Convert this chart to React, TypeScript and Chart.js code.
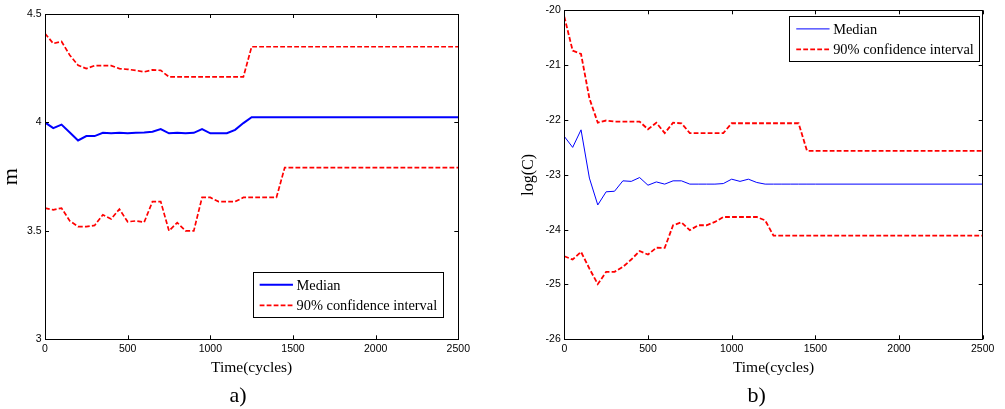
import { useEffect, useRef } from 'react';
import { Chart, registerables } from 'chart.js';

Chart.register(...registerables);

// ---------------- data ----------------
const cycles = [0, 50, 100, 150, 200, 250, 300, 350, 400, 450, 500, 550, 600, 650, 700, 750, 800, 850, 900, 950, 1000, 1050, 1100, 1150, 1200, 1250, 1300, 1350, 1400, 1450, 1500, 2500];

const mMedian = [4.0, 3.974, 3.99, 3.954, 3.917, 3.937, 3.937, 3.952, 3.95, 3.952, 3.95, 3.952, 3.954, 3.957, 3.969, 3.95, 3.952, 3.95, 3.952, 3.969, 3.95, 3.95, 3.95, 3.966, 3.997, 4.024, 4.024, 4.024, 4.024, 4.024, 4.024, 4.024];
const mUpper = [4.41, 4.364, 4.373, 4.31, 4.264, 4.248, 4.262, 4.262, 4.262, 4.248, 4.245, 4.24, 4.233, 4.242, 4.24, 4.21, 4.21, 4.21, 4.21, 4.21, 4.21, 4.21, 4.21, 4.21, 4.21, 4.349, 4.349, 4.349, 4.349, 4.349, 4.349, 4.349];
const mLower = [3.605, 3.597, 3.605, 3.546, 3.52, 3.52, 3.525, 3.574, 3.555, 3.6, 3.542, 3.546, 3.54, 3.635, 3.635, 3.5, 3.538, 3.5, 3.5, 3.654, 3.654, 3.635, 3.635, 3.635, 3.654, 3.654, 3.654, 3.654, 3.654, 3.792, 3.792, 3.792];

const cMedian = [-22.3, -22.5, -22.18, -23.06, -23.55, -23.31, -23.3, -23.11, -23.12, -23.05, -23.19, -23.13, -23.17, -23.11, -23.11, -23.17, -23.17, -23.17, -23.17, -23.16, -23.08, -23.12, -23.08, -23.14, -23.17, -23.17, -23.17, -23.17, -23.17, -23.17, -23.17, -23.17];
const cUpper = [-20.116, -20.736, -20.797, -21.606, -22.05, -22.01, -22.03, -22.03, -22.03, -22.03, -22.17, -22.05, -22.24, -22.05, -22.06, -22.24, -22.24, -22.24, -22.24, -22.24, -22.06, -22.06, -22.06, -22.06, -22.06, -22.06, -22.06, -22.06, -22.06, -22.562, -22.562, -22.562];
const cLower = [-24.485, -24.545, -24.406, -24.71, -24.994, -24.77, -24.77, -24.68, -24.545, -24.39, -24.455, -24.33, -24.333, -23.92, -23.867, -24.01, -23.92, -23.92, -23.86, -23.77, -23.77, -23.77, -23.77, -23.77, -23.83, -24.11, -24.11, -24.11, -24.11, -24.11, -24.11, -24.11];

const medianLabel = 'Median';
const ciLabel = '90% confidence interval';
const xTitle = 'Time(cycles)';

const SERIF = "'Liberation Serif', 'Times New Roman', serif";
const SANS = "'Liberation Sans', Arial, sans-serif";

const toPoints = (vals: number[]) => cycles.map((c, i) => ({ x: c, y: vals[i] }));
const plainTick = (v: any) => String(v);

// ---------------- decoration plugin ----------------
const decor = {
  id: 'decor',
  afterDraw(chart: any, _args: any, opts: any) {
    const { ctx, chartArea: a, scales } = chart;
    ctx.save();
    ctx.strokeStyle = '#000';
    ctx.lineWidth = 1;
    const tl = 4;
    const line = (x1: number, y1: number, x2: number, y2: number) => {
      ctx.beginPath();
      ctx.moveTo(x1, y1);
      ctx.lineTo(x2, y2);
      ctx.stroke();
    };
    // inward ticks on all four sides
    scales.x.ticks.forEach((t: any) => {
      const px = Math.round(scales.x.getPixelForValue(t.value)) + 0.5;
      line(px, a.bottom, px, a.bottom - tl);
      line(px, a.top, px, a.top + tl);
    });
    scales.y.ticks.forEach((t: any) => {
      const py = Math.round(scales.y.getPixelForValue(t.value)) + 0.5;
      line(a.left, py, a.left + tl, py);
      line(a.right, py, a.right - tl, py);
    });
    // frame
    ctx.strokeRect(Math.round(a.left) + 0.5, Math.round(a.top) + 0.5, Math.round(a.right - a.left), Math.round(a.bottom - a.top));

    // legend
    const lg = opts.legend;
    ctx.font = `${lg.fontSize}px ${SERIF}`;
    const entries = lg.entries.map((i: number) => chart.data.datasets[i]);
    const tw = Math.max(...entries.map((d: any) => ctx.measureText(d.label).width));
    const sample = 33.3;
    const w = 7 + sample + 3.6 + tw + 5.5;
    const h = 44.8;
    const bx = a.right - lg.right - w;
    const by = lg.top !== undefined ? a.top + lg.top : a.bottom - lg.bottom - h;
    ctx.fillStyle = '#fff';
    ctx.fillRect(bx, by, w, h);
    ctx.strokeStyle = '#000';
    ctx.lineWidth = 1;
    ctx.strokeRect(Math.round(bx) + 0.5, Math.round(by) + 0.5, Math.round(w), Math.round(h));
    entries.forEach((d: any, k: number) => {
      const ry = by + 13.9 + k * 20.5;
      ctx.save();
      ctx.strokeStyle = d.borderColor;
      ctx.lineWidth = d.borderWidth;
      ctx.setLineDash(d.borderDash || []);
      line(bx + 7, ry - 1, bx + 7 + sample, ry - 1);
      ctx.restore();
      ctx.fillStyle = '#000';
      ctx.textAlign = 'left';
      ctx.textBaseline = 'middle';
      ctx.fillText(d.label, bx + 7 + sample + 3.6, ry);
    });

    // sub-figure label
    ctx.font = `22px ${SERIF}`;
    ctx.fillStyle = '#000';
    ctx.textAlign = 'center';
    ctx.textBaseline = 'middle';
    ctx.fillText(opts.caption.text, opts.caption.x, opts.caption.y);
    ctx.restore();
  },
};

type PanelProps = {
  width: number;
  left: number;
  median: number[];
  upper: number[];
  lower: number[];
  medianWidth: number;
  ciWidth: number;
  yMin: number;
  yMax: number;
  yStep: number;
  yTitle: string;
  yTitleFont: number;
  yTitleLH: number;
  yTitlePad: number;
  yAxisW: number;
  padding: { left: number; top: number; right: number; bottom: number };
  legend: any;
  caption: { text: string; x: number; y: number };
};

function Panel(p: PanelProps) {
  const ref = useRef<HTMLCanvasElement | null>(null);
  useEffect(() => {
    if (!ref.current) return;
    const dash = [4.8, 2.2];
    const chart = new Chart(ref.current, {
      type: 'line',
      data: {
        datasets: [
          { label: medianLabel, data: toPoints(p.median), borderColor: '#0000ff', borderWidth: p.medianWidth, pointRadius: 0, tension: 0, fill: false },
          { label: ciLabel, data: toPoints(p.upper), borderColor: '#ff0000', borderWidth: p.ciWidth, borderDash: dash, pointRadius: 0, tension: 0, fill: false },
          { label: ciLabel, data: toPoints(p.lower), borderColor: '#ff0000', borderWidth: p.ciWidth, borderDash: dash, pointRadius: 0, tension: 0, fill: false },
        ],
      },
      options: {
        animation: false,
        responsive: false,
        devicePixelRatio: 1,
        layout: { padding: p.padding },
        plugins: {
          legend: { display: false },
          tooltip: { enabled: false },
          decor: { legend: p.legend, caption: p.caption },
        } as any,
        scales: {
          x: {
            type: 'linear',
            min: 0,
            max: 2500,
            afterFit: (s: any) => { s.height = 42.2; },
            ticks: { stepSize: 500, padding: 4, color: '#000', maxRotation: 0, font: { family: SANS, size: 10.5 }, callback: plainTick },
            grid: { display: false, drawTicks: false },
            border: { display: false },
            title: { display: true, text: xTitle, color: '#000', font: { family: SERIF, size: 15.5, lineHeight: 1.2 }, padding: { top: 0, bottom: 4 } },
          },
          y: {
            type: 'linear',
            min: p.yMin,
            max: p.yMax,
            afterFit: (s: any) => { s.width = p.yAxisW; },
            ticks: { stepSize: p.yStep, padding: 3.5, color: '#000', font: { family: SANS, size: 10.5 }, callback: plainTick },
            grid: { display: false, drawTicks: false },
            border: { display: false },
            title: { display: true, text: p.yTitle, color: '#000', font: { family: SERIF, size: p.yTitleFont, lineHeight: p.yTitleLH }, padding: { top: p.yTitlePad, bottom: 0 } },
          },
        },
      } as any,
      plugins: [decor as any],
    });
    return () => chart.destroy();
  }, []);
  return (
    <canvas
      ref={ref}
      width={p.width}
      height={409}
      style={{ position: 'absolute', left: p.left, top: 0, width: p.width, height: 409 }}
    />
  );
}

export default function App() {
  return (
    <div style={{ position: 'fixed', left: 0, top: 0, width: 1005, height: 409, background: '#fff', overflow: 'hidden' }}>
      <Panel
        width={500}
        left={0}
        median={mMedian}
        upper={mUpper}
        lower={mLower}
        medianWidth={2}
        ciWidth={1.7}
        yMin={3}
        yMax={4.5}
        yStep={0.5}
        yTitle="m"
        yTitleFont={22}
        yTitleLH={1}
        yTitlePad={0}
        yAxisW={45}
        padding={{ left: 0, top: 14, right: 41.7, bottom: 27.5 }}
        legend={{ entries: [0, 1], right: 15.6, bottom: 22.6, fontSize: 14.4 }}
        caption={{ text: 'a)', x: 238, y: 396 }}
      />
      <Panel
        width={505}
        left={500}
        median={cMedian}
        upper={cUpper}
        lower={cLower}
        medianWidth={1}
        ciWidth={1.8}
        yMin={-26}
        yMax={-20}
        yStep={1}
        yTitle="log(C)"
        yTitleFont={16}
        yTitleLH={1.2}
        yTitlePad={4}
        yAxisW={49.3}
        padding={{ left: 15, top: 10.3, right: 22.3, bottom: 27.5 }}
        legend={{ entries: [0, 1], right: 3.4, top: 5.7, fontSize: 14.4 }}
        caption={{ text: 'b)', x: 256.7, y: 396 }}
      />
    </div>
  );
}
